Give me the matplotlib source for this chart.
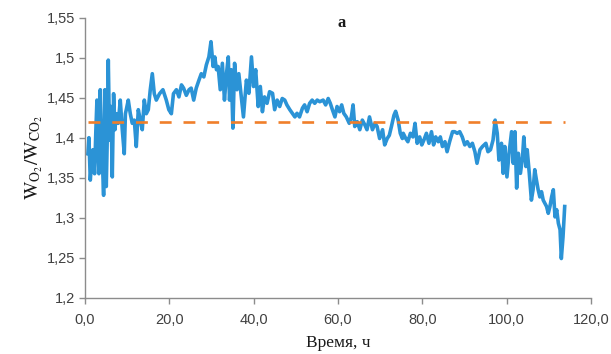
import matplotlib
matplotlib.use("Agg")
import matplotlib.pyplot as plt
from matplotlib.ticker import FixedLocator, FixedFormatter

# ---- data ----
time_h = [
    0.7, 0.95, 1.27, 1.6, 1.9, 2.29, 2.6, 2.85, 3.1, 3.32, 3.64, 3.9, 4.11, 4.43, 4.75,
    5.06, 5.3, 5.54, 5.85, 6.17, 6.49, 6.8, 7.12, 7.43, 7.91, 8.38, 8.86, 9.33, 9.6,
    9.81, 10.28, 10.76, 11.23, 11.71, 12.18, 12.66, 13.13, 13.6, 14.08, 14.55, 15.03,
    15.5, 15.98, 16.45, 16.93, 17.7, 18.5,
    19.3, 19.9, 20.5, 21.0, 21.7, 22.3, 22.9, 23.4, 24.05, 24.7, 25.2, 25.8, 26.4,
    27.05, 27.6, 28.2, 28.8, 29.4, 29.9, 30.4, 30.8, 31.2, 31.6, 32.1, 32.6, 33.1,
    33.5, 34.0, 34.3, 34.7, 35.1, 35.5, 36.05, 36.5, 37.1, 37.6,
    38.3, 38.9, 39.5, 40.0, 40.5, 41.1, 41.6, 42.1, 42.6, 43.2, 43.8, 44.5, 45.0,
    45.6, 46.2, 46.8, 47.4, 47.9, 48.6, 49.2, 49.8, 50.3, 50.9, 51.6, 52.1, 52.7,
    53.3, 53.9, 54.5, 55.1, 55.7, 56.5,
    57.1, 57.7, 58.2, 58.7, 59.3, 59.8, 60.4, 60.9, 61.4, 62.0, 62.7, 63.2, 63.6,
    64.0, 64.6, 65.2, 65.8, 66.4, 66.9, 67.5, 68.2, 68.8, 69.3, 69.9, 70.6, 71.1,
    71.7, 72.2, 72.7, 73.3, 73.7, 74.3, 74.8, 75.3,
    75.5, 76.1, 76.6, 77.2, 77.8, 78.3, 78.8, 79.4, 79.9, 80.4, 81.0, 81.6, 82.2,
    82.7, 83.2, 83.8, 84.3, 84.8, 85.4, 85.9, 86.5, 87.2, 87.7, 88.3, 88.9, 89.5,
    90.1, 90.7, 91.3, 91.9, 92.5, 93.0, 93.7, 94.3,
    95.1, 95.6, 96.2, 96.8, 97.3, 97.8, 98.2, 98.8, 99.2, 99.6, 100.1, 100.6, 101.2,
    101.6, 102.0, 102.4, 102.8, 103.3, 103.8, 104.1, 104.6, 104.9, 105.4, 105.9,
    106.3, 106.7, 107.1, 107.5, 107.9, 108.3, 108.7, 109.1, 109.5, 109.9, 110.3,
    110.7, 111.1, 111.5, 111.9, 112.3, 112.7, 113.0, 113.4, 113.8,
]
ratio = [
    1.38, 1.40, 1.347, 1.37, 1.385, 1.355, 1.41, 1.447, 1.39, 1.355, 1.46, 1.40, 1.376,
    1.328, 1.46, 1.339, 1.40, 1.497, 1.397, 1.439, 1.351, 1.455, 1.41, 1.43, 1.418,
    1.447, 1.41, 1.38, 1.43, 1.435, 1.447, 1.43, 1.418, 1.422, 1.389, 1.435, 1.422,
    1.41, 1.447, 1.43, 1.435, 1.46, 1.48, 1.455, 1.447, 1.455, 1.46,
    1.447, 1.435, 1.43, 1.455, 1.46, 1.451, 1.466, 1.462, 1.453, 1.46, 1.462, 1.447,
    1.462, 1.472, 1.48, 1.476, 1.491, 1.501, 1.52, 1.489, 1.501, 1.485, 1.489, 1.46,
    1.493, 1.447, 1.476, 1.501, 1.447, 1.485, 1.412, 1.493, 1.46, 1.48, 1.451, 1.426,
    1.472, 1.4555, 1.501, 1.464, 1.485, 1.439, 1.464, 1.4325, 1.451, 1.443, 1.4575,
    1.4555, 1.435, 1.447, 1.439, 1.449, 1.447, 1.441, 1.435, 1.4305, 1.426, 1.4305,
    1.426, 1.437, 1.441, 1.4325, 1.443, 1.447, 1.443, 1.447, 1.445, 1.447,
    1.441, 1.449, 1.443, 1.435, 1.426, 1.439, 1.4325, 1.441, 1.4305, 1.426, 1.418,
    1.426, 1.441, 1.414, 1.42, 1.41, 1.422, 1.416, 1.41, 1.426, 1.41, 1.418, 1.414,
    1.399, 1.41, 1.391, 1.399, 1.403, 1.414, 1.428, 1.433, 1.422, 1.4055, 1.399,
    1.4055, 1.399, 1.395, 1.4055, 1.401, 1.418, 1.393, 1.401, 1.391, 1.397, 1.4055,
    1.393, 1.4075, 1.391, 1.401, 1.395, 1.401, 1.389, 1.395, 1.3825, 1.395, 1.4075,
    1.4075, 1.4055, 1.4075, 1.401, 1.391, 1.395, 1.389, 1.393, 1.3825, 1.368, 1.385,
    1.389,
    1.393, 1.3825, 1.385, 1.397, 1.422, 1.4055, 1.372, 1.393, 1.3555, 1.389, 1.351,
    1.3805, 1.4075, 1.368, 1.4075, 1.337, 1.3805, 1.3555, 1.376, 1.401, 1.364, 1.385,
    1.3555, 1.322, 1.335, 1.36, 1.347, 1.335, 1.326, 1.3325, 1.322, 1.318, 1.314,
    1.3055, 1.314, 1.326, 1.335, 1.301, 1.31, 1.293, 1.285, 1.249, 1.276, 1.314,
]
reference_level = 1.42
x_ticks = [0, 20, 40, 60, 80, 100, 120]
x_tick_labels = ["0,0", "20,0", "40,0", "60,0", "80,0", "100,0", "120,0"]
y_ticks = [1.2, 1.25, 1.3, 1.35, 1.4, 1.45, 1.5, 1.55]
y_tick_labels = ["1,2", "1,25", "1,3", "1,35", "1,4", "1,45", "1,5", "1,55"]

plt.rcParams["mathtext.fontset"] = "stix"

fig = plt.figure(figsize=(6.11, 3.54), dpi=100)
ax = fig.add_axes([0.139, 0.159, 0.828, 0.791])

ax.plot(time_h, ratio, color="#2b93d6", lw=2.6, solid_joinstyle="round", zorder=2)
ax.plot([time_h[0], time_h[-1]], [reference_level, reference_level], color="#f07f2a",
        lw=1.9, dashes=(4.5, 4.5), zorder=3)

ax.set_xlim(0, 120)
ax.set_ylim(1.2, 1.55)
ax.xaxis.set_major_locator(FixedLocator(x_ticks))
ax.xaxis.set_major_formatter(FixedFormatter(x_tick_labels))
ax.yaxis.set_major_locator(FixedLocator(y_ticks))
ax.yaxis.set_major_formatter(FixedFormatter(y_tick_labels))

for s in ["top", "right"]:
    ax.spines[s].set_visible(False)
for s in ["left", "bottom"]:
    ax.spines[s].set_color("#8c8c8c")
    ax.spines[s].set_linewidth(1.0)
ax.tick_params(axis="both", direction="out", length=4, width=1.0, color="#8c8c8c",
               labelsize=10.5, labelcolor="#404040")
ax.tick_params(axis="x", pad=7)
ax.tick_params(axis="y", pad=3)
for lab in ax.get_xticklabels() + ax.get_yticklabels():
    lab.set_family("Liberation Sans")

ax.set_xlabel("Время, ч", family="Liberation Serif", fontsize=12.5, color="#1a1a1a",
              labelpad=6)
ax.set_ylabel(r"$\mathrm{W_{O_2}/W_{CO_2}}$", fontsize=14, color="#1a1a1a", labelpad=1)

fig.text(0.559, 0.936, "a", family="Liberation Serif", fontsize=12, fontweight="bold",
         ha="center", va="center", color="#1a1a1a")

fig.savefig("out.png", dpi=100)
